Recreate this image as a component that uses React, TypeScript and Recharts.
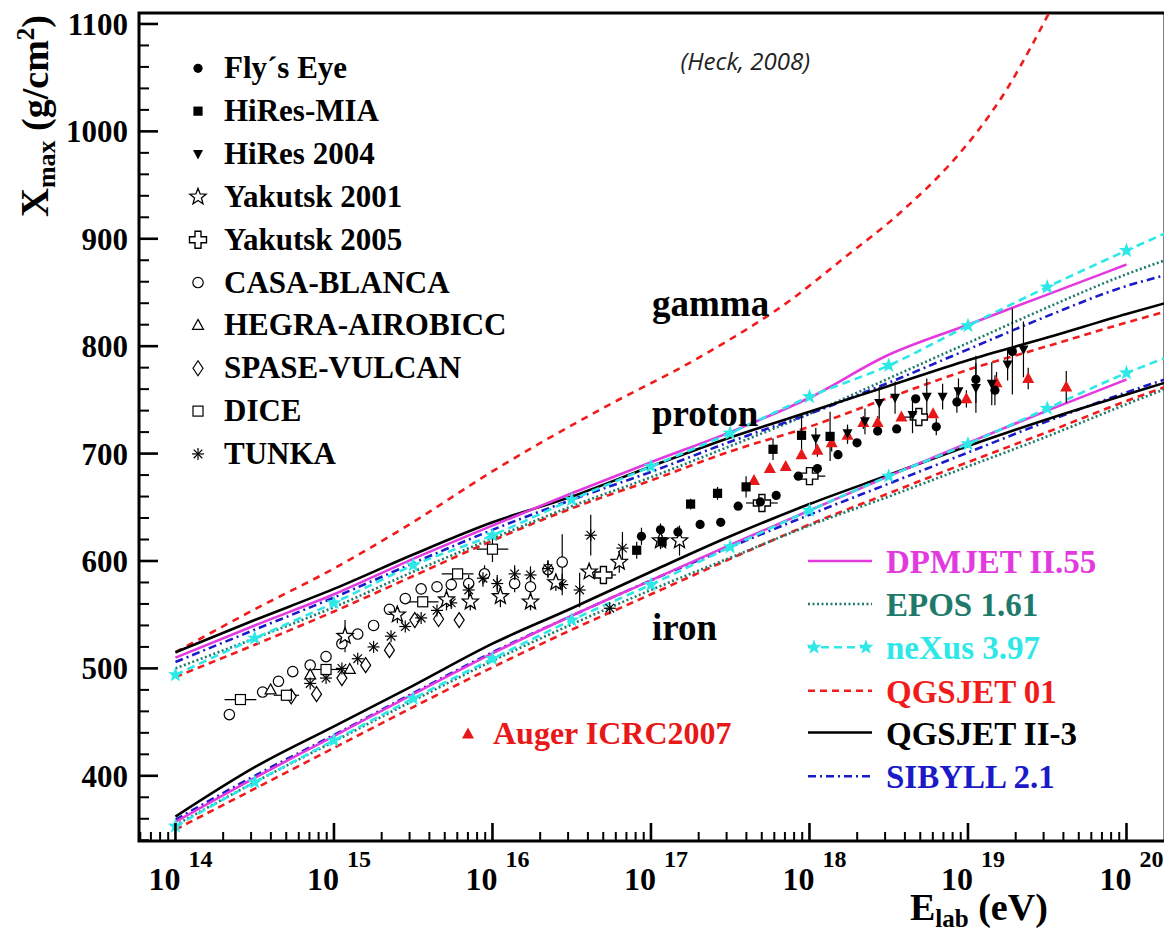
import React from 'react';
import { ComposedChart, Line, Scatter, XAxis, YAxis, ErrorBar, ReferenceArea } from 'recharts';

// ---------- axis ranges ----------
const X_MIN = 13.77;
const X_MAX = 20.243;
const Y_MIN = 339.3;
const Y_MAX = 1110.2;

const decades = [13, 14, 15, 16, 17, 18, 19, 20];
const multipliers = [1, 2, 3, 4, 5, 6, 7, 8, 9];
const xTicks = decades
  .flatMap((d) => multipliers.map((m) => d + Math.log10(m)))
  .filter((v) => v >= X_MIN && v <= X_MAX);
const yMajor = [400, 500, 600, 700, 800, 900, 1000, 1100];
const yTicks: number[] = [];
for (let v = 340; v <= 1100; v += 20) yTicks.push(v);

// ---------- model curves (log10 E, Xmax) ----------
const gammaQgsjet01 = [
  { x: 14.0, y: 515 }, { x: 14.5, y: 555 }, { x: 15.0, y: 593 }, { x: 15.42, y: 629 },
  { x: 16.05, y: 688 }, { x: 16.68, y: 741 }, { x: 17.31, y: 790 }, { x: 17.9, y: 845 },
  { x: 18.2, y: 880 }, { x: 18.57, y: 924 }, { x: 18.89, y: 970 }, { x: 19.06, y: 1000 },
  { x: 19.24, y: 1038 }, { x: 19.41, y: 1082 }, { x: 19.5, y: 1107 }, { x: 19.6, y: 1135 },
];

const pDpmjet = [
  { x: 14.0, y: 510 }, { x: 14.5, y: 540 }, { x: 15.0, y: 569 }, { x: 15.5, y: 602 },
  { x: 16.0, y: 633 }, { x: 16.5, y: 663 }, { x: 17.0, y: 692 }, { x: 17.5, y: 720 },
  { x: 18.0, y: 752 }, { x: 18.5, y: 792 }, { x: 19.0, y: 820 }, { x: 19.5, y: 848 },
  { x: 20.0, y: 876 },
];
const pEpos = [
  { x: 14.0, y: 500 }, { x: 14.5, y: 528 }, { x: 15.0, y: 557 }, { x: 15.5, y: 590 },
  { x: 16.0, y: 621 }, { x: 16.5, y: 651 }, { x: 17.0, y: 678 }, { x: 17.5, y: 707 },
  { x: 18.0, y: 737 }, { x: 18.5, y: 770 }, { x: 19.0, y: 803 }, { x: 19.5, y: 836 },
  { x: 20.0, y: 867 }, { x: 20.243, y: 880 },
];
const pNexus = [
  { x: 14.0, y: 494 }, { x: 14.5, y: 528 }, { x: 15.0, y: 561 }, { x: 15.5, y: 596 },
  { x: 16.0, y: 624 }, { x: 16.5, y: 657 }, { x: 17.0, y: 688 }, { x: 17.5, y: 719 },
  { x: 18.0, y: 753 }, { x: 18.5, y: 782 }, { x: 19.0, y: 819 }, { x: 19.5, y: 855 },
  { x: 20.0, y: 889 }, { x: 20.243, y: 905 },
];
const pQgsjet01 = [
  { x: 14.0, y: 492 }, { x: 14.5, y: 522 }, { x: 15.0, y: 553 }, { x: 15.5, y: 586 },
  { x: 16.0, y: 619 }, { x: 16.5, y: 649 }, { x: 17.0, y: 675 }, { x: 17.5, y: 702 },
  { x: 18.0, y: 725 }, { x: 18.5, y: 752 }, { x: 19.0, y: 778 }, { x: 19.5, y: 800 },
  { x: 20.0, y: 822 }, { x: 20.243, y: 832 },
];
const pQgsjet2 = [
  { x: 14.0, y: 515 }, { x: 14.5, y: 545 }, { x: 15.0, y: 574 }, { x: 15.5, y: 606 },
  { x: 16.0, y: 636 }, { x: 16.5, y: 660 }, { x: 17.0, y: 688 }, { x: 17.5, y: 715 },
  { x: 18.0, y: 739 }, { x: 18.5, y: 763 }, { x: 19.0, y: 787 }, { x: 19.5, y: 808 },
  { x: 20.0, y: 830 }, { x: 20.243, y: 840 },
];
const pSibyll = [
  { x: 14.0, y: 506 }, { x: 14.5, y: 536 }, { x: 15.0, y: 566 }, { x: 15.5, y: 598 },
  { x: 16.0, y: 629 }, { x: 16.5, y: 657 }, { x: 17.0, y: 683 }, { x: 17.5, y: 711 },
  { x: 18.0, y: 737 }, { x: 18.5, y: 766 }, { x: 19.0, y: 797 }, { x: 19.5, y: 828 },
  { x: 20.0, y: 856 }, { x: 20.243, y: 866 },
];

const feDpmjet = [
  { x: 14.0, y: 357 }, { x: 14.5, y: 398 }, { x: 15.0, y: 437 }, { x: 15.5, y: 476 },
  { x: 16.0, y: 514 }, { x: 16.5, y: 549 }, { x: 17.0, y: 582 }, { x: 17.5, y: 615 },
  { x: 18.0, y: 647 }, { x: 18.5, y: 679 }, { x: 19.0, y: 710 }, { x: 19.5, y: 740 },
  { x: 20.0, y: 769 },
];
const feEpos = [
  { x: 14.0, y: 354 }, { x: 14.5, y: 394 }, { x: 15.0, y: 432 }, { x: 15.5, y: 470 },
  { x: 16.0, y: 507 }, { x: 16.5, y: 541 }, { x: 17.0, y: 573 }, { x: 17.5, y: 603 },
  { x: 18.0, y: 633 }, { x: 18.5, y: 660 }, { x: 19.0, y: 688 }, { x: 19.5, y: 716 },
  { x: 20.0, y: 746 }, { x: 20.243, y: 760 },
];
const feNexus = [
  { x: 14.0, y: 353 }, { x: 14.5, y: 394 }, { x: 15.0, y: 433 }, { x: 15.5, y: 472 },
  { x: 16.0, y: 509 }, { x: 16.5, y: 545 }, { x: 17.0, y: 578 }, { x: 17.5, y: 613 },
  { x: 18.0, y: 647 }, { x: 18.5, y: 679 }, { x: 19.0, y: 709 }, { x: 19.5, y: 742 },
  { x: 20.0, y: 775 }, { x: 20.243, y: 789 },
];
const feQgsjet01 = [
  { x: 14.0, y: 350 }, { x: 14.5, y: 388 }, { x: 15.0, y: 426 }, { x: 15.5, y: 464 },
  { x: 16.0, y: 501 }, { x: 16.5, y: 536 }, { x: 17.0, y: 569 }, { x: 17.5, y: 602 },
  { x: 18.0, y: 634 }, { x: 18.5, y: 663 }, { x: 19.0, y: 692 }, { x: 19.5, y: 720 },
  { x: 20.0, y: 749 }, { x: 20.243, y: 762 },
];
const feQgsjet2 = [
  { x: 14.0, y: 362 }, { x: 14.5, y: 408 }, { x: 15.0, y: 446 }, { x: 15.5, y: 484 },
  { x: 16.0, y: 523 }, { x: 16.5, y: 556 }, { x: 17.0, y: 590 }, { x: 17.5, y: 623 },
  { x: 18.0, y: 653 }, { x: 18.5, y: 680 }, { x: 19.0, y: 707 }, { x: 19.5, y: 732 },
  { x: 20.0, y: 755 }, { x: 20.243, y: 766 },
];
const feSibyll = [
  { x: 14.0, y: 359 }, { x: 14.5, y: 400 }, { x: 15.0, y: 438 }, { x: 15.5, y: 477 },
  { x: 16.0, y: 515 }, { x: 16.5, y: 549 }, { x: 17.0, y: 582 }, { x: 17.5, y: 613 },
  { x: 18.0, y: 643 }, { x: 18.5, y: 672 }, { x: 19.0, y: 701 }, { x: 19.5, y: 730 },
  { x: 20.0, y: 757 }, { x: 20.243, y: 769 },
];

// ---------- measurements ----------
const flysEye = [
  { x: 16.94, y: 623, ey: 8 }, { x: 17.06, y: 629, ey: 6 }, { x: 17.17, y: 627, ey: 5 },
  { x: 17.31, y: 634, ey: 0 }, { x: 17.44, y: 636, ey: 0 }, { x: 17.55, y: 651, ey: 0 },
  { x: 17.69, y: 655, ey: 0 }, { x: 17.79, y: 661, ey: 0 }, { x: 17.93, y: 679, ey: 0 },
  { x: 18.05, y: 686, ey: 0 }, { x: 18.18, y: 699, ey: 0 }, { x: 18.3, y: 710, ey: 0 },
  { x: 18.43, y: 721, ey: 0 }, { x: 18.55, y: 723, ey: 0 }, { x: 18.67, y: 751, ey: 0 },
  { x: 18.8, y: 725, ey: 8 }, { x: 18.93, y: 748, ey: 10 }, { x: 19.05, y: 769, ey: 22 },
  { x: 19.17, y: 759, ey: 14 }, { x: 19.28, y: 795, ey: 40 },
];
const hiresMia = [
  { x: 16.91, y: 610, ey: 8 }, { x: 17.07, y: 618, ey: 6 }, { x: 17.25, y: 653, ey: 5 },
  { x: 17.42, y: 663, ey: 6 }, { x: 17.6, y: 669, ey: 10 }, { x: 17.77, y: 704, ey: 10 },
  { x: 17.95, y: 717, ey: 20 }, { x: 18.13, y: 716, ey: 23 },
];
const hires2004 = [
  { x: 18.04, y: 714, ey: 10 }, { x: 18.24, y: 719, ey: 8 }, { x: 18.35, y: 730, ey: 12 },
  { x: 18.44, y: 747, ey: 15 }, { x: 18.54, y: 752, ey: 15 }, { x: 18.65, y: 736, ey: 17 },
  { x: 18.74, y: 753, ey: 17 }, { x: 18.84, y: 753, ey: 12 }, { x: 18.94, y: 758, ey: 12 },
  { x: 19.05, y: 761, ey: 23 }, { x: 19.15, y: 765, ey: 20 }, { x: 19.25, y: 783, ey: 15 },
  { x: 19.35, y: 797, ey: 26 },
];
const yakutsk2001 = [
  { x: 15.07, y: 530, ey: 15 }, { x: 15.4, y: 550, ey: 8 }, { x: 15.71, y: 564, ey: 10 },
  { x: 15.86, y: 562, ey: 8 }, { x: 16.05, y: 567, ey: 10 }, { x: 16.24, y: 562, ey: 8 },
  { x: 16.4, y: 580, ey: 8 }, { x: 16.61, y: 590, ey: 0 }, { x: 16.8, y: 599, ey: 10 },
  { x: 17.06, y: 619, ey: 8 }, { x: 17.18, y: 619, ey: 14 },
];
const yakutsk2005 = [
  { x: 16.7, y: 587, ex: 0.08, ey: 5 }, { x: 17.7, y: 654, ex: 0.1, ey: 5 },
  { x: 18.0, y: 679, ex: 0.1, ey: 5 }, { x: 18.69, y: 734, ex: 0.1, ey: 5 },
];
const casaBlanca = [
  { x: 14.34, y: 457, ey: 0 }, { x: 14.55, y: 478, ey: 0 }, { x: 14.65, y: 488, ey: 0 },
  { x: 14.74, y: 497, ey: 0 }, { x: 14.85, y: 503, ey: 0 }, { x: 14.95, y: 511, ey: 0 },
  { x: 15.05, y: 523, ey: 5 }, { x: 15.15, y: 532, ey: 0 }, { x: 15.25, y: 540, ey: 0 },
  { x: 15.35, y: 555, ey: 0 }, { x: 15.45, y: 565, ey: 5 }, { x: 15.55, y: 574, ey: 0 },
  { x: 15.65, y: 576, ey: 5 }, { x: 15.74, y: 578, ey: 6 }, { x: 15.85, y: 579, ey: 8 },
  { x: 15.95, y: 588, ey: 8 }, { x: 16.14, y: 579, ey: 8 }, { x: 16.24, y: 576, ey: 15 },
  { x: 16.35, y: 592, ey: 8 }, { x: 16.44, y: 599, ey: 26 },
];
const hegra = [
  { x: 14.6, y: 480, ey: 0 }, { x: 14.85, y: 494, ey: 0 }, { x: 15.1, y: 499, ey: 0 },
];
const spaseVulcan = [
  { x: 14.73, y: 474, ey: 0 }, { x: 14.89, y: 476, ey: 0 }, { x: 15.05, y: 491, ey: 0 },
  { x: 15.2, y: 503, ey: 0 }, { x: 15.35, y: 517, ey: 0 }, { x: 15.51, y: 545, ey: 0 },
  { x: 15.66, y: 546, ey: 0 }, { x: 15.79, y: 545, ey: 0 },
];
const dice = [
  { x: 14.41, y: 471, ex: 0.1, ey: 0 }, { x: 14.7, y: 475, ex: 0.08, ey: 0 },
  { x: 14.95, y: 499, ex: 0.1, ey: 0 }, { x: 15.56, y: 562, ex: 0.1, ey: 0 },
  { x: 15.78, y: 588, ex: 0.1, ey: 0 }, { x: 16.0, y: 611, ex: 0.1, ey: 12 },
];
const tunka = [
  { x: 14.85, y: 486, ey: 0 }, { x: 14.95, y: 491, ey: 0 }, { x: 15.05, y: 500, ey: 0 },
  { x: 15.15, y: 509, ey: 0 }, { x: 15.25, y: 520, ey: 0 }, { x: 15.36, y: 530, ey: 0 },
  { x: 15.45, y: 539, ey: 0 }, { x: 15.55, y: 547, ey: 0 }, { x: 15.65, y: 554, ey: 0 },
  { x: 15.74, y: 561, ey: 0 }, { x: 15.85, y: 573, ey: 10 }, { x: 15.94, y: 584, ey: 8 },
  { x: 16.03, y: 579, ey: 8 }, { x: 16.14, y: 588, ey: 8 }, { x: 16.24, y: 587, ey: 8 },
  { x: 16.35, y: 593, ey: 8 }, { x: 16.44, y: 578, ey: 10 }, { x: 16.55, y: 573, ey: 16 },
  { x: 16.62, y: 624, ey: 19 }, { x: 16.74, y: 556, ey: 0 }, { x: 16.82, y: 612, ey: 15 },
];
const auger = [
  { x: 17.65, y: 675, ey: 0 }, { x: 17.75, y: 686, ey: 0 }, { x: 17.85, y: 688, ey: 0 },
  { x: 17.95, y: 699, ey: 0 }, { x: 18.05, y: 703, ey: 6 }, { x: 18.14, y: 710, ey: 8 },
  { x: 18.24, y: 717, ey: 8 }, { x: 18.34, y: 729, ey: 6 }, { x: 18.43, y: 729, ey: 6 },
  { x: 18.58, y: 734, ey: 0 }, { x: 18.78, y: 737, ey: 0 }, { x: 18.99, y: 751, ey: 8 },
  { x: 19.18, y: 766, ey: 10 }, { x: 19.38, y: 770, ey: 10 }, { x: 19.62, y: 762, ey: 15 },
];

const expLegend = [
  "Fly\u00b4s Eye", "HiRes-MIA", "HiRes 2004", "Yakutsk 2001", "Yakutsk 2005",
  "CASA-BLANCA", "HEGRA-AIROBICC", "SPASE-VULCAN", "DICE", "TUNKA",
];
const modelLegend = ["DPMJET II.55", "EPOS 1.61", "neXus 3.97", "QGSJET 01", "QGSJET II-3", "SIBYLL 2.1"];

// ---------- styles ----------
const C_MAG = '#e33adf';
const C_EPOS = '#1e7a6a';
const C_CYAN = '#2ee8e8';
const C_RED = '#f01c1c';
const C_BLK = '#000000';
const C_BLUE = '#1a1ac8';
const SERIF = '"Liberation Serif", "Times New Roman", serif';

const starPath = (cx: number, cy: number, R: number, r: number) => {
  let d = '';
  for (let i = 0; i < 10; i++) {
    const a = -Math.PI / 2 + (i * Math.PI) / 5;
    const rr = i % 2 === 0 ? R : r;
    d += (i === 0 ? 'M' : 'L') + (cx + rr * Math.cos(a)).toFixed(2) + ',' + (cy + rr * Math.sin(a)).toFixed(2);
  }
  return d + 'Z';
};

const filledCircle = (p: any) => <circle cx={p.cx} cy={p.cy} r={4.6} fill="#000" />;
const filledSquare = (p: any) => <rect x={p.cx - 4.6} y={p.cy - 4.6} width={9.2} height={9.2} fill="#000" />;
const invTriangle = (p: any) => (
  <polygon points={`${p.cx - 5},${p.cy - 4} ${p.cx + 5},${p.cy - 4} ${p.cx},${p.cy + 5.5}`} fill="#000" />
);
const openStar = (p: any) => (
  <path d={starPath(p.cx, p.cy, 8.5, 3.6)} fill="#fff" stroke="#000" strokeWidth={1.3} />
);
const openCross = (p: any) => {
  const a = 3, b = 8.5, x = p.cx, y = p.cy;
  const pts = [
    [-a, -b], [a, -b], [a, -a], [b, -a], [b, a], [a, a], [a, b], [-a, b], [-a, a], [-b, a], [-b, -a], [-a, -a],
  ].map(([dx, dy]) => `${x + dx},${y + dy}`).join(' ');
  return <polygon points={pts} fill="#fff" stroke="#000" strokeWidth={1.4} />;
};
const openCircle = (p: any) => <circle cx={p.cx} cy={p.cy} r={5.2} fill="#fff" stroke="#000" strokeWidth={1.2} />;
const openTriangle = (p: any) => (
  <polygon points={`${p.cx},${p.cy - 6} ${p.cx + 5.5},${p.cy + 4} ${p.cx - 5.5},${p.cy + 4}`} fill="#fff" stroke="#000" strokeWidth={1.2} />
);
const openDiamond = (p: any) => (
  <polygon points={`${p.cx},${p.cy - 7.5} ${p.cx + 5},${p.cy} ${p.cx},${p.cy + 7.5} ${p.cx - 5},${p.cy}`} fill="#fff" stroke="#000" strokeWidth={1.2} />
);
const openSquare = (p: any) => (
  <rect x={p.cx - 5} y={p.cy - 5} width={10} height={10} fill="#fff" stroke="#000" strokeWidth={1.2} />
);
const asterisk = (p: any) => {
  const s = 6, d = 4.3, x = p.cx, y = p.cy;
  return (
    <g stroke="#000" strokeWidth={1.2}>
      <line x1={x} y1={y - s} x2={x} y2={y + s} />
      <line x1={x - s} y1={y} x2={x + s} y2={y} />
      <line x1={x - d} y1={y - d} x2={x + d} y2={y + d} />
      <line x1={x - d} y1={y + d} x2={x + d} y2={y - d} />
    </g>
  );
};
const redTriangle = (p: any) => (
  <polygon points={`${p.cx},${p.cy - 6.5} ${p.cx + 6},${p.cy + 4.5} ${p.cx - 6},${p.cy + 4.5}`} fill="#e81818" />
);

const expShapes = [filledCircle, filledSquare, invTriangle, openStar, openCross, openCircle, openTriangle, openDiamond, openSquare, asterisk];

const makeStarDot = (lastIndex: number) => (props: any) => {
  const { cx, cy, index } = props;
  if (index === lastIndex || cx == null || cy == null) return <g key={`s${index}`} />;
  return <path key={`s${index}`} d={starPath(cx, cy, 8, 3.3)} fill={C_CYAN} />;
};

const XTick = (props: any) => {
  const { x, y, payload } = props;
  const v = payload.value as number;
  const major = Math.abs(v - Math.round(v)) < 1e-6;
  return (
    <g>
      <line x1={x} x2={x} y1={y} y2={y - (major ? 18 : 9)} stroke="#000" strokeWidth={major ? 2.6 : 2} />
      {major && (
        <>
          <text x={x + 5} y={y + 49} textAnchor="end" fontFamily={SERIF} fontWeight="bold" fontSize={32} fill="#000">10</text>
          <text x={x + 13} y={y + 26} textAnchor="start" fontFamily={SERIF} fontWeight="bold" fontSize={24} fill="#000">{Math.round(v)}</text>
        </>
      )}
    </g>
  );
};

const YTick = (props: any) => {
  const { x, y, payload } = props;
  const v = payload.value as number;
  const major = yMajor.includes(v);
  return (
    <g>
      <line x1={x} x2={x + (major ? 19 : 10)} y1={y} y2={y} stroke="#000" strokeWidth={major ? 2.6 : 2} />
      {major && (
        <text x={x - 11} y={y + 11} textAnchor="end" fontFamily={SERIF} fontWeight="bold" fontSize={31} fill="#000">{v}</text>
      )}
    </g>
  );
};

const lineCommon = { dot: false as const, activeDot: false as const, isAnimationActive: false, type: 'monotone' as const, dataKey: 'y', strokeWidth: 2.6, legendType: 'none' as const };

const Overlay = () => {
  const lx = 190, tx = 216;
  const mx1 = 800, mx2 = 864, mtx = 878;
  const modelBase = [565, 608, 651.3, 694.7, 736.5, 780.3];
  const modelColor = [C_MAG, C_EPOS, C_CYAN, C_RED, C_BLK, C_BLUE];
  const modelDash = ['', '2 2.5', '8 5', '7 5', '', '8 4 2 4'];
  return (
    <svg width={1164} height={926} style={{ position: 'absolute', left: 0, top: 0, pointerEvents: 'none' }}>
      {expLegend.map((t, i) => {
        const base = 70.3 + 42.85 * i;
        const Shape = expShapes[i];
        return (
          <g key={t}>
            {Shape({ cx: lx, cy: base - 10 })}
            <text x={tx} y={base} fontFamily={SERIF} fontWeight="bold" fontSize={31} fill="#000">{t}</text>
          </g>
        );
      })}
      {modelLegend.map((t, i) => {
        const base = modelBase[i];
        const ly = base - 12;
        return (
          <g key={t}>
            <line x1={mx1} x2={mx2} y1={ly} y2={ly} stroke={modelColor[i]} strokeWidth={2.6} strokeDasharray={modelDash[i] || undefined} />
            {i === 2 && (
              <>
                <path d={starPath(mx1 + 6, ly, 8, 3.3)} fill={C_CYAN} />
                <path d={starPath(mx2 - 6, ly, 8, 3.3)} fill={C_CYAN} />
              </>
            )}
            <text x={mtx} y={base} fontFamily={SERIF} fontWeight="bold" fontSize={33} fill={modelColor[i]}>{t}</text>
          </g>
        );
      })}
      {redTriangle({ cx: 460, cy: 726 })}
      <text x={485} y={736.3} fontFamily={SERIF} fontWeight="bold" fontSize={32} fill="#e81818">Auger ICRC2007</text>
      <text x={644} y={308} fontFamily={SERIF} fontWeight="bold" fontSize={37} fill="#000">gamma</text>
      <text x={644} y={418} fontFamily={SERIF} fontWeight="bold" fontSize={37} fill="#000">proton</text>
      <text x={644} y={632} fontFamily={SERIF} fontWeight="bold" fontSize={37} fill="#000">iron</text>
      <text x={802} y={62} textAnchor="end" fontFamily='"Open Sans", sans-serif' fontStyle="italic" fontSize={24} fill="#222">(Heck, 2008)</text>
      <text transform="translate(40, 209) rotate(-90)" fontFamily={SERIF} fontWeight="bold" fill="#000">
        <tspan fontSize={40}>X</tspan>
        <tspan fontSize={26} dy={7}>max</tspan>
        <tspan fontSize={38} dy={-7}> (g/cm</tspan>
        <tspan fontSize={25} dy={-14}>2</tspan>
        <tspan fontSize={38} dy={14}>)</tspan>
      </text>
      <text x={902} y={912} fontFamily={SERIF} fontWeight="bold" fill="#000">
        <tspan fontSize={38}>E</tspan>
        <tspan fontSize={25} dy={7}>lab</tspan>
        <tspan fontSize={38} dy={-7}> (eV)</tspan>
      </text>
    </svg>
  );
};

export default function App() {
  return (
    <div style={{ position: 'relative', width: 1164, height: 926, background: '#fff' }}>
      <ComposedChart width={1164} height={926} margin={{ top: 5, right: 7, bottom: 0, left: 0 }}>
        <XAxis
          dataKey="x"
          type="number"
          domain={[X_MIN, X_MAX]}
          allowDataOverflow
          ticks={xTicks}
          interval={0}
          tick={<XTick />}
          tickLine={false}
          axisLine={false}
          tickSize={0}
          tickMargin={0}
          height={93}
        />
        <YAxis
          dataKey="y"
          type="number"
          domain={[Y_MIN, Y_MAX]}
          allowDataOverflow
          ticks={yTicks}
          interval={0}
          tick={<YTick />}
          tickLine={false}
          axisLine={false}
          tickSize={0}
          tickMargin={0}
          width={131}
        />
        <ReferenceArea x1={X_MIN} x2={X_MAX} y1={Y_MIN} y2={Y_MAX} fill="none" stroke="#000" strokeWidth={3} ifOverflow="visible" />

        <Line {...lineCommon} data={gammaQgsjet01} stroke={C_RED} strokeDasharray="7 6" />

        <Line {...lineCommon} data={pQgsjet01} stroke={C_RED} strokeDasharray="7 5" />
        <Line {...lineCommon} data={pEpos} stroke={C_EPOS} strokeDasharray="2 2.5" />
        <Line {...lineCommon} data={pSibyll} stroke={C_BLUE} strokeDasharray="8 4 2 4" />
        <Line {...lineCommon} data={pQgsjet2} stroke={C_BLK} />
        <Line {...lineCommon} data={pDpmjet} stroke={C_MAG} />
        <Line {...lineCommon} data={pNexus} stroke={C_CYAN} strokeDasharray="8 5" dot={makeStarDot(pNexus.length - 1)} />

        <Line {...lineCommon} data={feQgsjet01} stroke={C_RED} strokeDasharray="7 5" />
        <Line {...lineCommon} data={feEpos} stroke={C_EPOS} strokeDasharray="2 2.5" />
        <Line {...lineCommon} data={feSibyll} stroke={C_BLUE} strokeDasharray="8 4 2 4" />
        <Line {...lineCommon} data={feQgsjet2} stroke={C_BLK} />
        <Line {...lineCommon} data={feDpmjet} stroke={C_MAG} />
        <Line {...lineCommon} data={feNexus} stroke={C_CYAN} strokeDasharray="8 5" dot={makeStarDot(feNexus.length - 1)} />

        <Scatter data={casaBlanca} shape={openCircle} isAnimationActive={false} legendType="none">
          <ErrorBar dataKey="ey" direction="y" width={0} stroke="#000" strokeWidth={1.2} />
        </Scatter>
        <Scatter data={hegra} shape={openTriangle} isAnimationActive={false} legendType="none" />
        <Scatter data={spaseVulcan} shape={openDiamond} isAnimationActive={false} legendType="none" />
        <Scatter data={tunka} shape={asterisk} isAnimationActive={false} legendType="none">
          <ErrorBar dataKey="ey" direction="y" width={0} stroke="#000" strokeWidth={1.2} />
        </Scatter>
        <Scatter data={yakutsk2001} shape={openStar} isAnimationActive={false} legendType="none">
          <ErrorBar dataKey="ey" direction="y" width={0} stroke="#000" strokeWidth={1.2} />
        </Scatter>
        <Scatter data={dice} shape={openSquare} isAnimationActive={false} legendType="none">
          <ErrorBar dataKey="ex" direction="x" width={0} stroke="#000" strokeWidth={1.2} />
          <ErrorBar dataKey="ey" direction="y" width={0} stroke="#000" strokeWidth={1.2} />
        </Scatter>
        <Scatter data={yakutsk2005} shape={openCross} isAnimationActive={false} legendType="none">
          <ErrorBar dataKey="ex" direction="x" width={0} stroke="#000" strokeWidth={1.2} />
          <ErrorBar dataKey="ey" direction="y" width={0} stroke="#000" strokeWidth={1.2} />
        </Scatter>
        <Scatter data={auger} shape={redTriangle} isAnimationActive={false} legendType="none">
          <ErrorBar dataKey="ey" direction="y" width={0} stroke="#000" strokeWidth={1.2} />
        </Scatter>
        <Scatter data={hiresMia} shape={filledSquare} isAnimationActive={false} legendType="none">
          <ErrorBar dataKey="ey" direction="y" width={0} stroke="#000" strokeWidth={1.2} />
        </Scatter>
        <Scatter data={hires2004} shape={invTriangle} isAnimationActive={false} legendType="none">
          <ErrorBar dataKey="ey" direction="y" width={0} stroke="#000" strokeWidth={1.2} />
        </Scatter>
        <Scatter data={flysEye} shape={filledCircle} isAnimationActive={false} legendType="none">
          <ErrorBar dataKey="ey" direction="y" width={0} stroke="#000" strokeWidth={1.2} />
        </Scatter>
      </ComposedChart>
      <Overlay />
    </div>
  );
}
